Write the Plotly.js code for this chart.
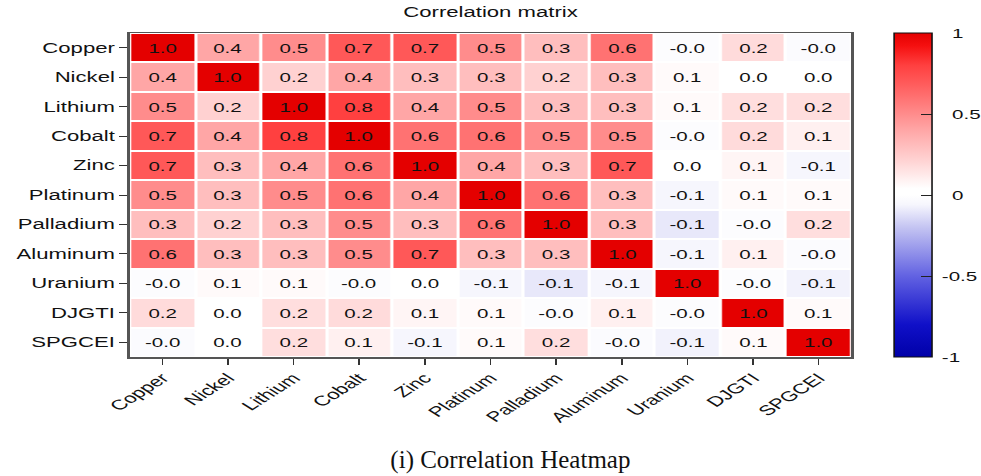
<!DOCTYPE html>
<html>
<head>
<meta charset="utf-8">
<script src="https://cdn.plot.ly/plotly-3.0.1.min.js"></script>
<style>
  html, body { margin: 0; padding: 0; background: #fff; overflow: hidden; }
  /* The figure is laid out narrow and stretched sideways to its full width */
  #chart {
    width: 621px;
    height: 476px;
    transform: scaleX(1.5797);
    transform-origin: 0 0;
  }
  /* keep the caption at its natural proportions */
  #chart .annotation-text {
    transform-box: fill-box;
    transform-origin: center;
    transform: scaleX(0.633);
  }
</style>
</head>
<body>
<div id="chart"></div>
<script>
// Assets in the correlation matrix (same order on both axes)
const assets = ["Copper", "Nickel", "Lithium", "Cobalt", "Zinc", "Platinum",
                "Palladium", "Aluminum", "Uranium", "DJGTI", "SPGCEI"];

// Pairwise correlations, one row per asset
const rowCopper    = [ 1.00,  0.40,  0.50,  0.70,  0.70,  0.50,  0.30,  0.60, -0.02,  0.18, -0.03];
const rowNickel    = [ 0.40,  1.00,  0.22,  0.40,  0.30,  0.30,  0.22,  0.30,  0.06,  0.02,  0.01];
const rowLithium   = [ 0.50,  0.22,  1.00,  0.80,  0.40,  0.50,  0.30,  0.30,  0.06,  0.17,  0.17];
const rowCobalt    = [ 0.70,  0.40,  0.80,  1.00,  0.60,  0.60,  0.50,  0.50, -0.02,  0.18,  0.10];
const rowZinc      = [ 0.70,  0.30,  0.40,  0.60,  1.00,  0.40,  0.30,  0.70,  0.02,  0.08, -0.06];
const rowPlatinum  = [ 0.50,  0.30,  0.50,  0.60,  0.40,  1.00,  0.60,  0.30, -0.06,  0.06,  0.06];
const rowPalladium = [ 0.30,  0.22,  0.30,  0.50,  0.30,  0.60,  1.00,  0.30, -0.10, -0.02,  0.17];
const rowAluminum  = [ 0.60,  0.30,  0.30,  0.50,  0.70,  0.30,  0.30,  1.00, -0.06,  0.10, -0.03];
const rowUranium   = [-0.02,  0.06,  0.06, -0.02,  0.02, -0.06, -0.10, -0.06,  1.00, -0.02, -0.07];
const rowDJGTI     = [ 0.18,  0.02,  0.17,  0.18,  0.08,  0.06, -0.02,  0.10, -0.02,  1.00,  0.06];
const rowSPGCEI    = [-0.03,  0.01,  0.17,  0.10, -0.06,  0.06,  0.17, -0.03, -0.07,  0.06,  1.00];

const corr = [rowCopper, rowNickel, rowLithium, rowCobalt, rowZinc, rowPlatinum,
              rowPalladium, rowAluminum, rowUranium, rowDJGTI, rowSPGCEI];

// Colour bar ticks (a leading space keeps the labels clear of the bar)
const cbTickVals = [1, 0.5, 0, -0.5, -1];
const cbTickText = ["\u2002\u20091", "\u2002\u20090.5", "\u2002\u20090", "\u2009-0.5", "\u2009-1"];

const cellText = corr.map(r => r.map(v => v.toFixed(1)));

const font = "Liberation Sans, Arial, Helvetica, sans-serif";

const trace = {
  type: "heatmap",
  x: assets,
  y: assets,
  z: corr,
  zmin: -1,
  zmax: 1,
  text: cellText,
  texttemplate: "%{text}",
  textfont: { family: font, size: 13, color: "#111" },
  xgap: 2,
  ygap: 2,
  hoverongaps: false,
  colorscale: [
    [0.00, "#0000a8"],
    [0.10, "#1010c8"],
    [0.25, "#6262e2"],
    [0.40, "#c4c4f2"],
    [0.47, "#f6f6fd"],
    [0.50, "#ffffff"],
    [0.52, "#ffffff"],
    [0.60, "#ffd6d6"],
    [0.70, "#ffa6a6"],
    [0.75, "#ff8c8c"],
    [0.85, "#ff5858"],
    [0.90, "#ff4040"],
    [0.96, "#f51010"],
    [1.00, "#e40000"]
  ],
  colorbar: {
    x: 1.0583,
    xanchor: "left",
    xref: "paper",
    y: 0.5,
    yanchor: "middle",
    len: 1,
    lenmode: "fraction",
    thickness: 24,
    outlinecolor: "#111",
    outlinewidth: 1,
    ticks: "inside",
    ticklen: 7,
    tickcolor: "#222",
    tickvals: cbTickVals,
    ticktext: cbTickText,
    tickfont: { family: font, size: 13, color: "#111" },
    ypad: 0,
    xpad: 0
  }
};

const layout = {
  width: 621,
  height: 476,
  margin: { l: 82, r: 82, t: 33, b: 119, autoexpand: false },
  paper_bgcolor: "#fff",
  plot_bgcolor: "#fff",
  title: {
    text: "Correlation matrix",
    x: 0.5,
    xref: "paper",
    y: 1,
    yref: "container",
    yanchor: "top",
    pad: { t: 7 },
    font: { family: font, size: 14, color: "#111" }
  },
  xaxis: {
    type: "category",
    tickangle: -45,
    ticks: "outside",
    ticklen: 6,
    tickcolor: "#333",
    tickfont: { family: font, size: 14, color: "#111" },
    showline: true,
    mirror: true,
    linecolor: "#555",
    linewidth: 1.5,
    showgrid: false,
    zeroline: false,
    automargin: false
  },
  yaxis: {
    type: "category",
    autorange: "reversed",
    ticks: "outside",
    ticklen: 5,
    tickcolor: "#333",
    tickfont: { family: font, size: 14, color: "#111" },
    showline: true,
    mirror: true,
    linecolor: "#555",
    linewidth: 1.5,
    showgrid: false,
    zeroline: false,
    automargin: false
  },
  annotations: [{
    text: "(i) Correlation Heatmap",
    xref: "paper",
    yref: "paper",
    x: 0.527,
    y: -0.318,
    xanchor: "center",
    yanchor: "middle",
    showarrow: false,
    font: { family: "Liberation Serif, DejaVu Serif, serif", size: 25, color: "#111" }
  }]
};

Plotly.newPlot("chart", [trace], layout, { displayModeBar: false, staticPlot: true });
</script>
</body>
</html>
